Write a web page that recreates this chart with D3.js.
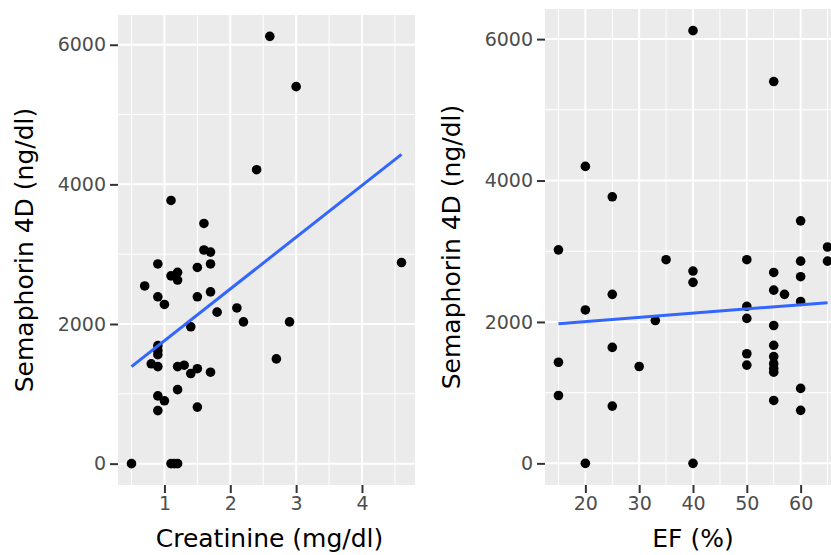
<!DOCTYPE html>
<html>
<head>
<meta charset="utf-8">
<script src="https://cdn.jsdelivr.net/npm/d3@7"></script>
<style>
  body { margin: 0; background: #fff; }
  svg { display: block; }
  .tick text { font-family: "DejaVu Sans", sans-serif; font-size: 19px; fill: #4d4d4d; }
  .tick line { stroke: #333; stroke-width: 2px; }
  .title { font-family: "DejaVu Sans", sans-serif; font-size: 25px; fill: #000; }
</style>
</head>
<body>
<svg id="chart" width="831" height="555"></svg>
<script>
// left panel: creatinine vs semaphorin 4D
const creatinine = [2.6, 3.0, 2.4, 1.1, 1.6, 4.6, 1.6, 1.7, 0.9, 1.5, 1.7, 1.1, 1.2, 1.2, 0.7,
    0.9, 1.0, 1.5, 1.7, 1.8, 2.1, 2.2, 2.9, 1.4, 0.9, 0.9, 0.9, 2.7, 0.8, 0.9, 1.2, 1.3,
    1.4, 1.5, 1.7, 1.2, 0.9, 1.0, 0.9, 1.5, 0.5, 1.1, 1.15, 1.2];
const semaCreat = [6120, 5400, 4210, 3770, 3440, 2880, 3060, 3030, 2860, 2810, 2860, 2690, 2740, 2630, 2545,
    2390, 2280, 2390, 2460, 2170, 2230, 2030, 2030, 1960, 1690, 1620, 1560, 1500, 1430, 1390, 1390, 1410,
    1290, 1360, 1310, 1060, 970, 900, 760, 810, 0, 0, 0, 0];
const creatFit = [[0.5, 1390], [4.6, 4430]];
const creatTicks = [1, 2, 3, 4];
const creatMinor = [0.5, 1.5, 2.5, 3.5, 4.5];

// right panel: EF vs semaphorin 4D
const ef = [40, 55, 20, 25, 60, 15, 65, 65, 35, 40, 40, 50, 55, 60, 60, 25, 55, 57, 60, 20,
    50, 50, 33, 55, 25, 55, 50, 55, 55, 55, 55, 15, 50, 30, 60, 15, 55, 25, 60, 20, 40];
const semaEf = [6120, 5400, 4200, 3770, 3430, 3020, 3060, 2860, 2880, 2720, 2560, 2880, 2700, 2860, 2640, 2390, 2450, 2390, 2290, 2170,
    2220, 2050, 2020, 1950, 1640, 1670, 1550, 1510, 1410, 1340, 1290, 1430, 1390, 1370, 1060, 960, 890, 810, 750, 0, 0];
const efFit = [[15, 1976], [65, 2273]];
const efTicks = [20, 30, 40, 50, 60];
const efMinor = [15, 25, 35, 45, 55, 65];

const semaTicks = [0, 2000, 4000, 6000];
const semaMinor = [1000, 3000, 5000];

const svg = d3.select("#chart");

// ggplot style 5% expansion
function expand(vals) {
    const [lo, hi] = d3.extent(vals);
    const pad = (hi - lo) * 0.05;
    return [lo - pad, hi + pad];
}

function drawPanel(opts) {
    const { left, right, top, bottom, xs, ys, fit, xTicks, xMinor, xTitle, titleX } = opts;
    const x = d3.scaleLinear().domain(expand(xs)).range([left, right]);
    const y = d3.scaleLinear().domain(expand(ys)).range([bottom, top]);
    const g = svg.append("g");

    g.append("rect")
        .attr("x", left).attr("y", top)
        .attr("width", right - left).attr("height", bottom - top)
        .attr("fill", "#ebebeb");

    // grid
    g.selectAll(".ymin").data(semaMinor).join("line")
        .attr("x1", left).attr("x2", right)
        .attr("y1", d => y(d)).attr("y2", d => y(d))
        .attr("stroke", "#fff").attr("stroke-width", 1);
    g.selectAll(".xmin").data(xMinor).join("line")
        .attr("y1", top).attr("y2", bottom)
        .attr("x1", d => x(d)).attr("x2", d => x(d))
        .attr("stroke", "#fff").attr("stroke-width", 1);
    g.selectAll(".ymaj").data(semaTicks).join("line")
        .attr("x1", left).attr("x2", right)
        .attr("y1", d => y(d)).attr("y2", d => y(d))
        .attr("stroke", "#fff").attr("stroke-width", 2);
    g.selectAll(".xmaj").data(xTicks).join("line")
        .attr("y1", top).attr("y2", bottom)
        .attr("x1", d => x(d)).attr("x2", d => x(d))
        .attr("stroke", "#fff").attr("stroke-width", 2);

    // points
    g.selectAll(".dot").data(xs.map((v, i) => [v, ys[i]])).join("circle")
        .attr("cx", d => x(d[0])).attr("cy", d => y(d[1]))
        .attr("r", 4.8).attr("fill", "#000");

    // lm line
    g.append("path")
        .attr("d", d3.line().x(d => x(d[0])).y(d => y(d[1]))(fit))
        .attr("fill", "none").attr("stroke", "#3366ff").attr("stroke-width", 3);

    // axes
    const xAxis = g.append("g")
        .attr("transform", `translate(0,${bottom})`)
        .call(d3.axisBottom(x).tickValues(xTicks).tickSize(8).tickPadding(4).tickFormat(d3.format("d")));
    const yAxis = g.append("g")
        .attr("transform", `translate(${left},0)`)
        .call(d3.axisLeft(y).tickValues(semaTicks).tickSize(8).tickPadding(4).tickFormat(d3.format("d")));
    xAxis.select(".domain").remove();
    yAxis.select(".domain").remove();

    g.append("text").attr("class", "title")
        .attr("x", (left + Math.min(right, 831)) / 2 + opts.xTitleShift).attr("y", 547)
        .attr("text-anchor", "middle")
        .text(xTitle);
    g.append("text").attr("class", "title")
        .attr("transform", `translate(${titleX},${(top + bottom) / 2}) rotate(-90)`)
        .attr("text-anchor", "middle")
        .text("Semaphorin 4D (ng/dl)");
}

drawPanel({
    left: 118, right: 415, top: 15, bottom: 485,
    xs: creatinine, ys: semaCreat, fit: creatFit,
    xTicks: creatTicks, xMinor: creatMinor,
    xTitle: "Creatinine (mg/dl)", titleX: 33, xTitleShift: 3
});

drawPanel({
    left: 545, right: 841, top: 9, bottom: 485,
    xs: ef, ys: semaEf, fit: efFit,
    xTicks: efTicks, xMinor: efMinor,
    xTitle: "EF (%)", titleX: 460, xTitleShift: 5
});
</script>
</body>
</html>
